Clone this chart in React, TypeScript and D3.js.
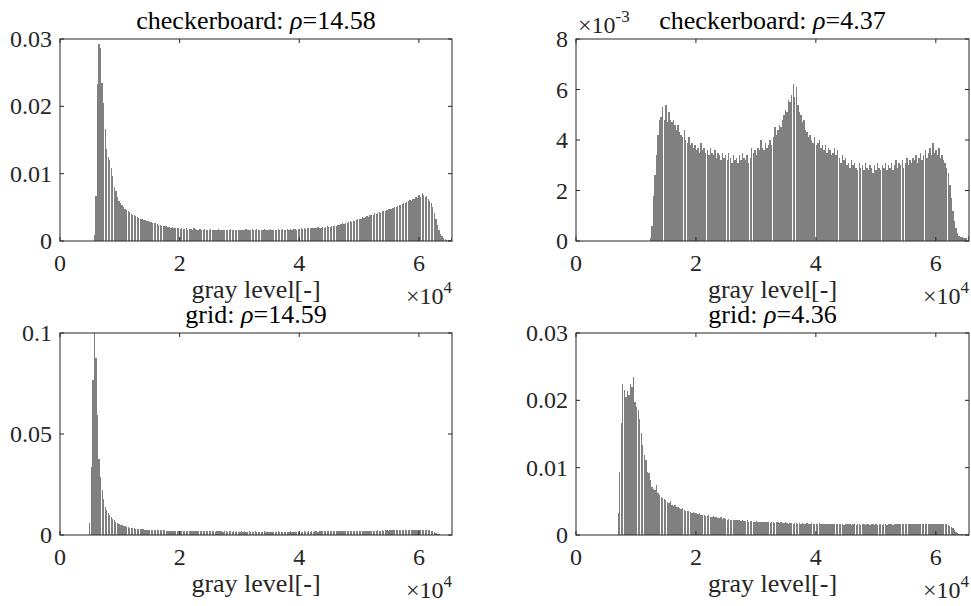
import React from "react";
import * as d3 from "d3";

// ---- data (histogram heights in units of 1e-4, 256 bins of 256 gray levels) ----
const BIN_SIZE = 256;
const GRAY_MAX = 65535;
const VALUE_UNIT = 1e-4;

const xTickValues = [0, 20000, 40000, 60000];
const xTickLabels = ["0", "2", "4", "6"];
const xAxisLabel = "gray level[-]";

const panelNames = ["checkerboard", "checkerboard", "grid", "grid"];
const panelRhos = ["14.58", "4.37", "14.59", "4.36"];

const yTicksA = [0, 0.01, 0.02, 0.03];
const yTickLabelsA = ["0", "0.01", "0.02", "0.03"];
const yTicksB = [0, 0.002, 0.004, 0.006, 0.008];
const yTickLabelsB = ["0", "2", "4", "6", "8"];
const yTicksC = [0, 0.05, 0.1];
const yTickLabelsC = ["0", "0.05", "0.1"];
const yTicksD = [0, 0.01, 0.02, 0.03];
const yTickLabelsD = ["0", "0.01", "0.02", "0.03"];

const checker1458 = [
  0,0,0,0,0,0,0,0,0,0,0,0,0,0,0,0,0,0,0,0,0,0,
  9,67,233,293,286,235,205,166,137,125,
  120,108,96,80,74,66,60,56,54,51,
  48,46,45,43,40,39,38,37,36,34,
  33,32,31,31,30,29,28,28,27,26,
  26,25,24,24,23,23,22,22,21,21,
  20,21,20,19,20,19,18,
  19,18,18,19,17,18,18,17,19,18,
  17,17,18,16,17,18,17,16,17,18,
  16,17,17,16,18,17,16,17,17,16,
  17,16,18,17,16,17,16,
  17,16,17,16,17,18,16,17,17,18,
  16,17,18,17,16,17,17,18,17,16,
  17,18,17,17,16,17,18,17,17,18,
  17,16,18,17,18,17,18,18,17,18,
  18,19,18,19,18,19,20,19,19,20,
  19,20,21,20,20,21,20,21,22,21,
  21,22,22,23,23,24,24,25,26,25,
  27,27,28,29,28,30,30,31,32,33,
  33,35,34,36,37,36,38,39,39,41,
  40,42,43,42,44,45,44,46,47,48,
  47,49,51,50,52,54,53,55,57,56,
  58,60,61,59,63,62,66,64,68,65,71,69,
  66,67,63,60,56,50,42,33,24,17,11,7,4,3,2,2,2,4,
];

const checker437 = [
  0,0,0,0,0,0,0,0,0,0,0,0,0,0,0,0,0,0,0,0,0,0,0,0,
  0,0,0,0,0,0,0,0,0,0,0,0,0,0,0,0,0,0,0,0,0,0,0,0,
  1,6,18,26,34,42,48,49,53,48,
  54,47,51,48,47,48,46,44,46,43,
  42,41,44,40,39,41,38,39,37,38,
  36,37,35,39,36,37,35,36,34,37,
  35,34,36,33,35,34,32,35,33,34,
  32,35,33,31,34,32,33,31,34,32,
  35,33,32,34,31,33,37,35,36,34,
  37,36,40,37,36,39,37,38,40,38,
  41,45,42,44,46,45,48,50,52,51,
  56,55,58,62,57,61,54,51,50,47,
  48,44,43,41,42,40,39,41,38,39,
  40,37,38,36,38,35,37,36,34,35,
  37,34,36,33,31,34,32,33,30,31,
  29,32,30,31,29,28,31,29,30,28,
  31,29,28,30,29,27,30,28,31,29,
  28,30,29,31,28,30,29,31,28,30,
  32,29,31,30,32,29,31,33,30,32,
  31,33,32,34,31,33,35,32,34,36,
  33,35,37,34,39,35,36,34,37,33,
  34,32,31,29,27,22,17,12,8,5,
  3,2,1.5,1.5,1,1,1,2,
];

const grid1459 = [
  0,0,0,0,0,0,0,0,0,0,0,0,0,0,0,0,0,0,0,
  60,338,767,1050,875,594,376,289,223,178,
  140,126,110,97,88,80,72,66,61,56,
  51,48,46,43,41,39,37,35,34,33,
  32,31,30,29,29,28,27,27,26,26,
  25,25,25,24,24,24,24,23,23,23,
  22,22,22,22,21,22,21,21,21,22,
  20,19,20,19,19,20,19,18,19,20,
  19,18,19,19,18,19,18,19,18,18,
  19,18,17,18,19,18,18,17,18,18,
  17,18,18,17,18,17,18,17,17,18,
  17,18,17,17,18,17,16,17,18,17,
  17,16,17,17,18,17,17,16,17,17,
  16,17,17,18,17,16,17,17,16,17,
  17,18,17,17,16,17,17,18,17,17,
  18,17,17,18,17,18,17,18,18,17,
  18,18,19,18,18,19,18,19,19,18,
  19,19,20,19,19,20,19,20,20,19,20,20,
  20,21,20,21,21,20,21,22,21,21,
  22,21,22,22,21,22,23,22,22,23,
  22,23,23,22,23,24,23,23,24,23,
  24,24,23,24,25,24,24,25,24,25,
  25,24,25,26,25,24,25,26,25,24,
  24,22,19,15,10,6,3,2,1,1,1,1,1,1,2,
];

const grid436 = [
  0,0,0,0,0,0,0,0,0,0,0,0,0,0,0,0,0,0,0,0,0,0,0,0,0,0,0,
  32,94,166,225,215,205,214,208,225,220,
  235,198,190,185,173,151,134,119,111,94,
  92,82,72,69,67,74,63,60,57,55,
  53,52,49,47,50,45,43,44,41,42,
  40,39,40,37,36,35,36,34,33,34,
  32,32,31,32,30,29,30,28,28,29,
  27,27,28,26,26,25,25,26,24,25,
  24,23,24,23,22,23,22,22,23,22,
  21,22,21,21,22,20,21,21,20,20,
  21,19,20,20,
  19,20,19,19,20,18,19,19,18,19,
  19,18,19,18,18,19,18,17,18,18,
  17,18,18,17,18,17,18,17,17,18,
  17,17,18,17,16,17,17,18,17,16,
  17,17,16,17,16,17,16,16,17,16,
  16,17,16,15,16,16,17,16,15,16,
  16,15,16,16,15,16,17,15,16,16,
  15,16,16,15,16,15,16,16,15,16,
  16,15,16,17,16,15,16,16,17,16,
  16,17,16,16,17,16,17,16,16,17,
  16,17,17,16,17,16,17,17,16,17,
  16,17,16,17,17,16,17,16,17,16,
  16,15,14,12,10,7,5,3,2,2,1,1,1,1,1,
];

// ---- rendering ----
const FONT = "Liberation Serif, Times New Roman, DejaVu Serif, serif";
const AXIS_COLOR = "#262626";
const BAR_COLOR = "#808080";

type PanelProps = {
  id: string;
  left: number;
  top: number;
  width: number;
  height: number;
  data: number[];
  yMax: number;
  yTicks: number[];
  yTickLabels: string[];
  name: string;
  rho: string;
  yExponent?: string;
  barFrac: number;
};

const txt = (size: number, color = AXIS_COLOR) => ({
  fontFamily: FONT,
  fontSize: size + "px",
  fill: color,
});

function Panel(p: PanelProps) {
  const bottom = p.top + p.height;
  const right = p.left + p.width;
  const x = d3.scaleLinear().domain([0, GRAY_MAX]).range([p.left, right]);
  const y = d3.scaleLinear().domain([0, p.yMax]).range([bottom, p.top]);
  const tickLen = 4;

  return (
    <g>
      <defs>
        <clipPath id={p.id}>
          <rect x={p.left} y={p.top} width={p.width} height={p.height} />
        </clipPath>
      </defs>
      <g clipPath={`url(#${p.id})`} shapeRendering="crispEdges">
        {p.data.map((d, i) => {
          if (d <= 0) return null;
          const x0 = x(i * BIN_SIZE);
          const x1 = x((i + 1) * BIN_SIZE);
          const bw = (x1 - x0) * p.barFrac;
          const v = d * VALUE_UNIT;
          const yTop = y(v);
          return (
            <rect
              key={i}
              x={x0 + (x1 - x0 - bw) / 2}
              y={yTop}
              width={bw}
              height={bottom - yTop}
              fill={BAR_COLOR}
            />
          );
        })}
      </g>
      <rect
        x={p.left}
        y={p.top}
        width={p.width}
        height={p.height}
        fill="none"
        stroke={AXIS_COLOR}
        strokeWidth={1}
      />
      {xTickValues.map((t, i) => (
        <g key={"xt" + i}>
          <line x1={x(t)} x2={x(t)} y1={bottom} y2={bottom - tickLen} stroke={AXIS_COLOR} />
          <line x1={x(t)} x2={x(t)} y1={p.top} y2={p.top + tickLen} stroke={AXIS_COLOR} />
          <text x={x(t)} y={bottom + 30} textAnchor="middle" style={txt(24)}>
            {xTickLabels[i]}
          </text>
        </g>
      ))}
      {p.yTicks.map((t, i) => (
        <g key={"yt" + i}>
          <line x1={p.left} x2={p.left + tickLen} y1={y(t)} y2={y(t)} stroke={AXIS_COLOR} />
          <line x1={right} x2={right - tickLen} y1={y(t)} y2={y(t)} stroke={AXIS_COLOR} />
          <text x={p.left - 8} y={y(t) + 8} textAnchor="end" style={txt(24)}>
            {p.yTickLabels[i]}
          </text>
        </g>
      ))}
      <text x={(p.left + right) / 2} y={bottom + 57} textAnchor="middle" style={txt(26)}>
        {xAxisLabel}
      </text>
      <text x={right} y={bottom + 63} textAnchor="end" style={txt(24)}>
        ×10<tspan dy={-11} style={{ fontSize: "17px" }}>4</tspan>
      </text>
      {p.yExponent ? (
        <text x={p.left + 2} y={p.top - 6} textAnchor="start" style={txt(24)}>
          ×10<tspan dy={-11} style={{ fontSize: "17px" }}>{p.yExponent}</tspan>
        </text>
      ) : null}
      <text x={(p.left + right) / 2} y={p.top - 10} textAnchor="middle" style={txt(26, "#000")}>
        {p.name}: <tspan style={{ fontStyle: "italic" }}>ρ</tspan>={p.rho}
      </text>
    </g>
  );
}

export default function App() {
  return (
    <div style={{ position: "fixed", left: 0, top: 0 }}>
      <svg width={971} height={606} style={{ display: "block", background: "#fff" }}>
        <rect x={0} y={0} width={971} height={606} fill="#fff" />
        <Panel
          id="c1"
          left={60}
          top={39}
          width={392}
          height={202}
          data={checker1458}
          yMax={0.03}
          yTicks={yTicksA}
          yTickLabels={yTickLabelsA}
          name={panelNames[0]}
          rho={panelRhos[0]}
          barFrac={0.8}
        />
        <Panel
          id="c2"
          left={576}
          top={39}
          width={393}
          height={202}
          data={checker437}
          yMax={0.008}
          yTicks={yTicksB}
          yTickLabels={yTickLabelsB}
          name={panelNames[1]}
          rho={panelRhos[1]}
          yExponent="-3"
          barFrac={0.93}
        />
        <Panel
          id="c3"
          left={60}
          top={333}
          width={392}
          height={202}
          data={grid1459}
          yMax={0.1}
          yTicks={yTicksC}
          yTickLabels={yTickLabelsC}
          name={panelNames[2]}
          rho={panelRhos[2]}
          barFrac={0.78}
        />
        <Panel
          id="c4"
          left={576}
          top={333}
          width={393}
          height={202}
          data={grid436}
          yMax={0.03}
          yTicks={yTicksD}
          yTickLabels={yTickLabelsD}
          name={panelNames[3]}
          rho={panelRhos[3]}
          barFrac={0.86}
        />
      </svg>
    </div>
  );
}
